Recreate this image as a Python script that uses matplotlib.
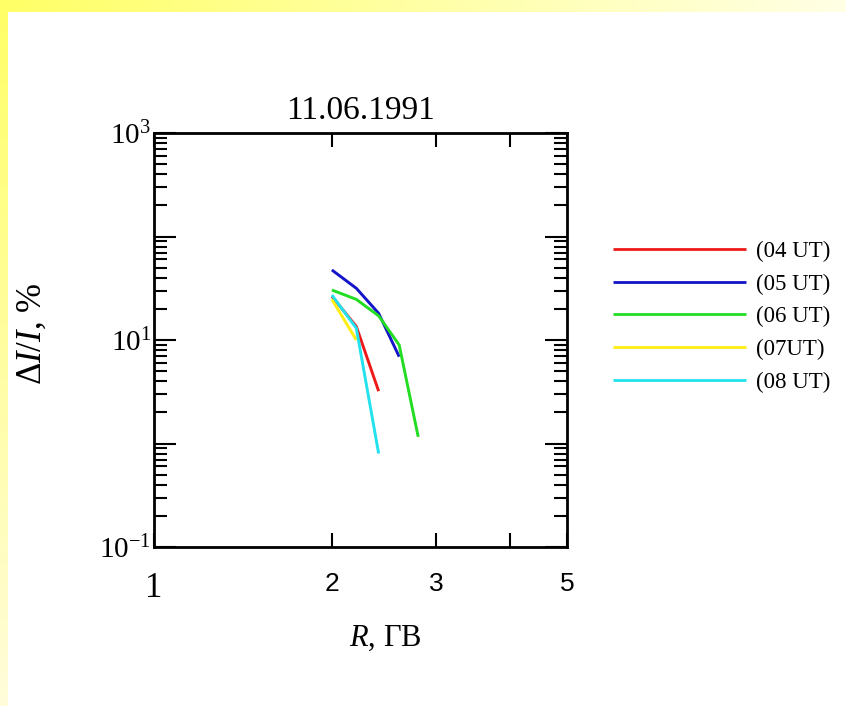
import numpy as np
import matplotlib
matplotlib.use('Agg')
import matplotlib.pyplot as plt
from matplotlib.ticker import FixedLocator, NullLocator, LogLocator, FuncFormatter

plt.rcParams['mathtext.fontset'] = 'custom'
plt.rcParams['mathtext.rm'] = 'Liberation Serif'
plt.rcParams['mathtext.it'] = 'Liberation Serif:italic'
plt.rcParams['mathtext.bf'] = 'Liberation Serif:bold'
plt.rcParams['font.family'] = ['Liberation Serif', 'DejaVu Serif']

# ---------------- data ----------------
title = '11.06.1991'
series_labels = ['(04 UT)', '(05 UT)', '(06 UT)', '(07UT)', '(08 UT)']
series_colors = ['#ee1a1a', '#1414c8', '#22dd22', '#ffee11', '#22e2ee']

r_04 = [2.0, 2.2, 2.4]
d_04 = [26.5, 13.5, 3.2]
r_05 = [2.0, 2.2, 2.4, 2.6]
d_05 = [47.5, 31.6, 18.1, 6.9]
r_06 = [2.0, 2.2, 2.4, 2.6, 2.8]
d_06 = [30.4, 24.7, 17.1, 8.95, 1.16]
r_07 = [2.0, 2.2]
d_07 = [24.7, 10.0]
r_08 = [2.0, 2.2, 2.4]
d_08 = [27.2, 13.0, 0.80]

x_ticks = [1, 2, 3, 4, 5]
x_tick_labels = ['1', '2', '3', '', '5']
y_major = [0.1, 1, 10, 100, 1000]
y_labelled = {0.1: r'$10^{-1}$', 10: r'$10^{1}$', 1000: r'$10^{3}$'}

# ---------------- figure ----------------
W, H = 846, 706
fig = plt.figure(figsize=(W / 100, H / 100), dpi=100)

# decorative yellow border bands (background)
bg = np.ones((H, W, 3))
yellow = np.array([1.0, 1.0, 0.40])
pale_top = np.array([1.0, 1.0, 0.90])
pale_left = np.array([1.0, 0.99, 0.86])
tb = 12
lb = 8
tcol = np.linspace(0, 1, W)[:, None]
bg[:tb, :, :] = (yellow * (1 - tcol) + pale_top * tcol)[None, :, :]
lrow = np.linspace(0, 1, H)[:, None]
bg[tb:, :lb, :] = (yellow * (1 - lrow[tb:]) + pale_left * lrow[tb:])[:, None, :]
bax = fig.add_axes([0, 0, 1, 1], zorder=-10)
bax.imshow(bg, aspect='auto', extent=(0, 1, 0, 1), interpolation='nearest')
bax.set_axis_off()

ax = fig.add_axes([154 / W, 1 - 547 / H, 413 / W, 414 / H])
ax.set_xscale('log')
ax.set_yscale('log')

data = [(r_04, d_04), (r_05, d_05), (r_06, d_06), (r_07, d_07), (r_08, d_08)]
for (r, d), c, lab in zip(data, series_colors, series_labels):
    ax.plot(r, d, color=c, lw=2.1, label=lab, solid_capstyle='butt')

ax.set_xlim(1, 5)
ax.set_ylim(0.1, 1000)

# x ticks
ax.xaxis.set_major_locator(FixedLocator(x_ticks))
ax.xaxis.set_minor_locator(NullLocator())
ax.set_xticklabels(x_tick_labels)
for t in ax.get_xticklabels():
    if t.get_text() == '1':
        t.set_fontfamily('Liberation Serif')
        t.set_fontsize(25)
    else:
        t.set_fontfamily('Liberation Sans')
        t.set_fontsize(19)

# y ticks
ax.yaxis.set_major_locator(FixedLocator(y_major))
ax.yaxis.set_minor_locator(LogLocator(base=10, subs=np.arange(2, 10), numticks=20))
ax.yaxis.set_major_formatter(FuncFormatter(lambda v, p: y_labelled.get(round(v, 3), '')))
ax.yaxis.set_minor_formatter(FuncFormatter(lambda v, p: ''))

ax.tick_params(which='both', direction='in', top=True, right=True, width=1.5, color='black')
ax.tick_params(axis='y', which='major', length=16, labelsize=21, pad=2)
ax.tick_params(axis='y', which='minor', length=9.5)
ax.tick_params(axis='x', which='major', length=10, pad=18)

for s in ax.spines.values():
    s.set_linewidth(2.0)

ax.set_title(title, fontsize=24, pad=10)
ax.set_xlabel(r'$R$, ГВ', fontsize=22)
ax.xaxis.set_label_coords(0.56, -0.185)
ax.set_ylabel(r'$\Delta I/I$, %', fontsize=25)
ax.yaxis.set_label_coords(-0.256, 0.5147)

leg = ax.legend(loc='upper left', bbox_to_anchor=(613 / W, 1 - 241 / H),
                bbox_transform=fig.transFigure, frameon=False, fontsize=16.5,
                handlelength=5.8, handletextpad=0.45, labelspacing=0.5,
                borderpad=0, borderaxespad=0)
for ln in leg.get_lines():
    ln.set_linewidth(2.0)

fig.savefig('out.png', dpi=100)
